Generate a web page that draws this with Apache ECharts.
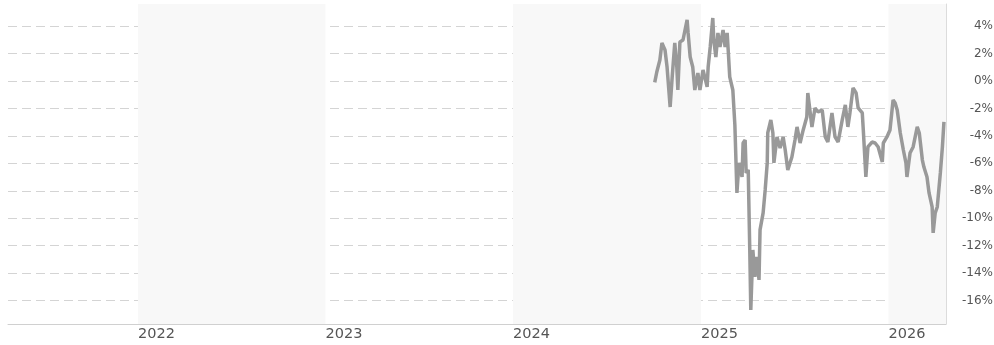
<!DOCTYPE html>
<html>
<head>
<meta charset="utf-8">
<script src="https://cdn.jsdelivr.net/npm/echarts@6/dist/echarts.min.js"></script>
<style>
  html, body { margin: 0; padding: 0; background: #fff; }
  #chart { width: 994px; height: 345px; }
</style>
</head>
<body>
<div id="chart"></div>
<script>
// axis window (5 years)
var axisStart = '2021-04-23'
var axisEnd = '2026-04-23'

var dates = [
    '2024-10-03', '2024-10-07', '2024-10-13', '2024-10-17', '2024-10-23', '2024-10-27',
    '2024-11-02', '2024-11-06', '2024-11-11', '2024-11-15', '2024-11-17', '2024-11-21',
    '2024-11-27', '2024-12-05', '2024-12-07', '2024-12-11', '2024-12-16', '2024-12-20',
    '2024-12-26', '2024-12-30', '2025-01-05', '2025-01-13', '2025-01-15', '2025-01-19',
    '2025-01-24', '2025-01-26', '2025-01-30', '2025-02-03', '2025-02-07', '2025-02-13',
    '2025-02-17', '2025-02-21', '2025-02-23', '2025-02-26', '2025-03-04', '2025-03-08',
    '2025-03-12', '2025-03-16', '2025-03-22', '2025-03-24', '2025-03-28', '2025-03-30',
    '2025-04-03', '2025-04-06', '2025-04-08', '2025-04-12', '2025-04-16', '2025-04-20',
    '2025-04-24', '2025-04-26', '2025-05-02', '2025-05-06', '2025-05-10', '2025-05-11',
    '2025-05-17', '2025-05-21', '2025-05-23', '2025-05-29', '2025-06-04', '2025-06-10',
    '2025-06-14', '2025-06-19', '2025-06-27', '2025-07-03', '2025-07-07', '2025-07-13',
    '2025-07-19', '2025-07-26', '2025-07-28', '2025-08-05', '2025-08-11', '2025-08-17',
    '2025-08-25', '2025-08-31', '2025-09-05', '2025-09-13', '2025-09-19', '2025-09-25',
    '2025-10-03', '2025-10-09', '2025-10-14', '2025-10-18', '2025-10-24', '2025-10-30',
    '2025-11-03', '2025-11-11', '2025-11-13', '2025-11-18', '2025-11-22', '2025-11-30',
    '2025-12-06', '2025-12-12', '2025-12-20', '2025-12-22', '2025-12-29', '2026-01-04',
    '2026-01-10', '2026-01-14', '2026-01-18', '2026-01-24', '2026-01-30', '2026-02-04',
    '2026-02-06', '2026-02-12', '2026-02-18', '2026-02-26', '2026-03-02', '2026-03-08',
    '2026-03-11', '2026-03-17', '2026-03-21', '2026-03-27', '2026-03-29', '2026-04-02',
    '2026-04-06', '2026-04-12', '2026-04-16', '2026-04-19'
]

// performance in %
var values = [
    -0.1, 0.65, 1.52, 2.76, 2.25, 1.01,
    -1.90, 0.29, 2.76, 1.01, -0.66, 2.84,
    2.98, 4.44, 3.49, 1.74, 1.01, -0.66,
    0.58, -0.66, 0.80, -0.44, 1.01, 2.47,
    4.58, 2.98, 1.74, 3.49, 2.47, 3.71,
    2.47, 3.49, 2.25, 0.29, -0.66, -3.21,
    -8.16, -5.97, -6.99, -4.52, -4.30, -6.70,
    -6.48, -12.31, -16.68, -12.31, -14.27, -12.82,
    -14.49, -10.85, -9.61, -7.94, -5.97, -3.79,
    -2.84, -3.79, -5.97, -4.08, -4.88, -4.08,
    -5.03, -6.48, -5.54, -4.30, -3.35, -4.52,
    -3.57, -2.63, -0.88, -3.35, -1.97, -2.26,
    -2.12, -4.08, -4.45, -2.33, -4.08, -4.45,
    -2.84, -1.75, -3.35, -2.33, -0.51, -0.88,
    -1.97, -2.33, -3.57, -6.99, -4.81, -4.45,
    -4.52, -4.81, -5.90, -4.52, -4.08, -3.57,
    -1.39, -1.61, -2.12, -3.79, -5.03, -5.97,
    -6.99, -5.25, -4.81, -3.35, -3.79, -5.76,
    -6.27, -6.99, -8.16, -9.18, -11.07, -9.61,
    -9.18, -6.70, -4.81, -2.99
]

var yMin = -17.7
var yMax = 5.6

var seriesData = dates.map(function (d, i) {
    return [d, values[i]]
})

var chart = echarts.init(document.getElementById('chart'))

chart.setOption({
    animation: false,
    grid: {
        left: 8,
        right: 48,
        top: 4,
        bottom: 21,
        containLabel: false,
        outerBoundsMode: 'none'
    },
    xAxis: {
        type: 'time',
        min: axisStart,
        max: axisEnd,
        splitNumber: 5,
        minInterval: 365 * 24 * 3600 * 1000,
        maxInterval: 366 * 24 * 3600 * 1000,
        axisLine: { onZero: false, lineStyle: { color: '#d0d0d0', width: 1 } },
        axisTick: { show: false },
        axisLabel: {
            formatter: '{yyyy}',
            align: 'left',
            margin: 3,
            color: '#555',
            fontFamily: 'DejaVu Sans',
            fontSize: 14.5,
            showMinLabel: false,
            showMaxLabel: false,
            hideOverlap: false
        },
        splitLine: { show: false },
        splitArea: {
            show: true,
            areaStyle: { color: ['rgba(255,255,255,0)', '#f8f8f8'] }
        }
    },
    yAxis: {
        type: 'value',
        position: 'right',
        min: yMin,
        max: yMax,
        splitNumber: 11,
        minInterval: 2,
        maxInterval: 2,
        axisLine: { show: true, lineStyle: { color: '#dcdcdc', width: 1 } },
        axisTick: { show: false },
        axisLabel: {
            formatter: '{value}%',
            align: 'right',
            margin: 47,
            padding: [4, 0, 0, 0],
            color: '#555',
            fontFamily: 'DejaVu Sans',
            fontSize: 12,
            showMinLabel: false,
            showMaxLabel: false
        },
        splitLine: {
            show: true,
            showMinLine: false,
            showMaxLine: false,
            lineStyle: { color: '#d4d4d4', type: [9, 5], width: 1 }
        }
    },
    series: [
        {
            type: 'line',
            data: seriesData,
            showSymbol: false,
            symbol: 'none',
            lineStyle: { color: '#999', width: 3.5 },
            emphasis: { disabled: true }
        }
    ]
})
</script>
</body>
</html>
